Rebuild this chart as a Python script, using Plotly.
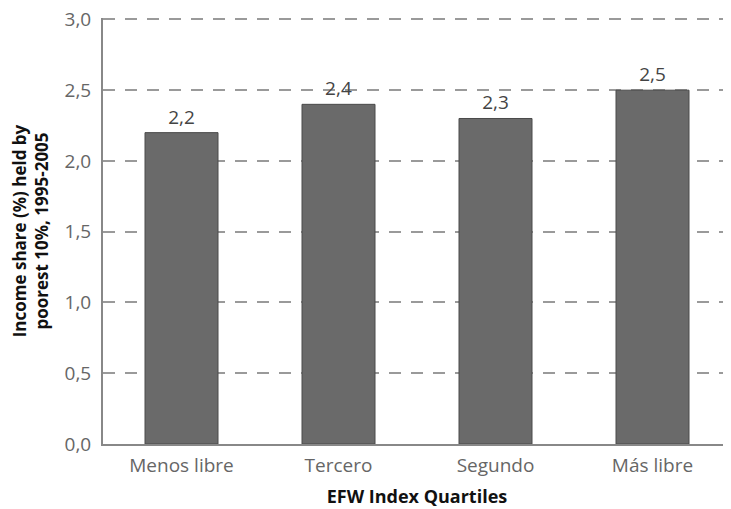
import plotly.graph_objects as go

categories = ["Menos libre", "Tercero", "Segundo", "Más libre"]
values = [2.2, 2.4, 2.3, 2.5]
y_ticks = [0, 0.5, 1.0, 1.5, 2.0, 2.5, 3.0]

fig = go.Figure()
fig.add_trace(go.Bar(
    x=categories, y=values,
    marker=dict(color="#6a6a6a", line=dict(color="#4a4a4a", width=1)),
    width=0.465,
    texttemplate="%{y:.1f}", textposition="outside",
    textfont=dict(family="Open Sans", size=19, color="#444444"),
    cliponaxis=False,
))

# page body has an 8px margin, so the figure is sized/offset to compensate
fig.update_layout(
    width=723, height=501,
    margin=dict(l=95, r=0, t=10, b=65, autoexpand=False),
    paper_bgcolor="white", plot_bgcolor="white",
    separators=",.",
    showlegend=False,
    font=dict(family="Open Sans", color="#666666"),
    xaxis=dict(
        range=[-0.5, 3.5], automargin=False,
        showline=True, linecolor="#888888", linewidth=2,
        showgrid=False,
        ticks="outside", ticklen=3, tickcolor="rgba(0,0,0,0)",
        tickfont=dict(size=19, color="#666666"),
        ticklabeloverflow="allow",
        title=dict(text="<b>EFW Index Quartiles</b>", font=dict(size=18, color="#111111"), standoff=14),
    ),
    yaxis=dict(
        range=[0, 3.01], automargin=False,
        tickvals=y_ticks, tickformat=".1f",
        showline=True, linecolor="#888888", linewidth=2,
        showgrid=True, gridcolor="#9a9a9a", gridwidth=2, griddash="12px,10px",
        zeroline=False,
        ticks="outside", ticklen=6, tickcolor="rgba(0,0,0,0)",
        tickfont=dict(size=19, color="#666666"),
        ticklabeloverflow="allow",
        title=dict(text="<b>Income share (%) held by<br>poorest 10%, 1995-2005</b>",
                   font=dict(size=17, color="#111111"), standoff=13),
    ),
)

fig.write_html("out.html")
